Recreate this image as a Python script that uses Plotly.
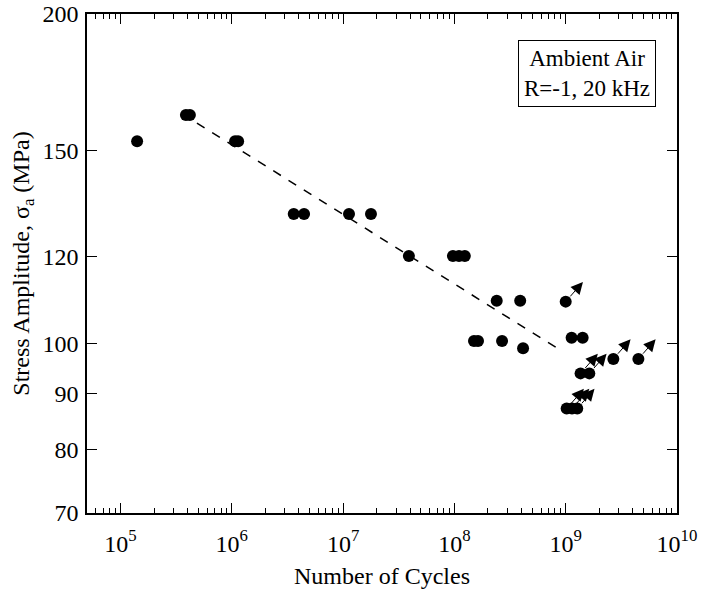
import math
import plotly.graph_objects as go

# Failed specimens
cycles_fail = [1.41e5, 3.87e5, 4.2e5, 1.07e6, 1.14e6, 3.6e6, 4.46e6, 1.13e7, 1.78e7,
               3.9e7, 9.7e7, 1.1e8, 1.24e8, 2.4e8, 3.9e8, 1.5e8, 1.63e8, 2.68e8,
               4.14e8, 1.13e9, 1.42e9]
stress_fail = [153, 161.7, 161.7, 153, 153, 131.3, 131.3, 131.3, 131.3,
               120.2, 120.2, 120.2, 120.2, 109.4, 109.4, 100.5, 100.5, 100.5,
               99.0, 101.2, 101.2]

# Run-outs (arrows)
cycles_runout = [1.0e9, 1.36e9, 1.63e9, 2.68e9, 4.5e9, 1.02e9, 1.14e9, 1.27e9]
stress_runout = [109.2, 93.9, 93.9, 96.8, 96.8, 87.2, 87.2, 87.2]

# Fit line endpoints
cycles_fit = [4.86e5, 8.4e8]
stress_fit = [159, 99]

y_ticks = [70, 80, 90, 100, 120, 150, 200]
x_ticks = [1e5, 1e6, 1e7, 1e8, 1e9, 1e10]
x_ticktext = ["10<sup>5</sup>", "10<sup>6</sup>", "10<sup>7</sup>", "10<sup>8</sup>",
              "10<sup>9</sup>", "10<sup>10</sup>"]

FONT = "Liberation Serif"

fig = go.Figure()
fig.add_trace(go.Scatter(x=cycles_fit, y=stress_fit, mode="lines",
                         line=dict(color="black", width=1.5, dash="dash"),
                         showlegend=False, hoverinfo="skip"))
fig.add_trace(go.Scatter(x=cycles_fail + cycles_runout, y=stress_fail + stress_runout,
                         mode="markers", marker=dict(color="black", size=12),
                         showlegend=False))

annotations = []
for n, s in zip(cycles_runout, stress_runout):
    lx, ly = math.log10(n), math.log10(s)
    annotations.append(dict(x=lx + 0.155, y=ly + 0.018, ax=lx, ay=ly,
                            xref="x", yref="y", axref="x", ayref="y",
                            showarrow=True, arrowhead=2, arrowsize=2.4,
                            arrowwidth=1, arrowcolor="black", startstandoff=5,
                            text=""))
annotations.append(dict(x=0.964, y=0.948, xref="paper", yref="paper",
                        xanchor="right", yanchor="top", showarrow=False,
                        text="Ambient Air<br>R=-1, 20 kHz", align="center",
                        font=dict(family=FONT, size=23, color="black"),
                        bordercolor="black", borderwidth=1, borderpad=5,
                        bgcolor="white"))

minor_x = [k * 10 ** e for e in range(4, 10) for k in range(2, 10)]

fig.update_layout(
    width=701, height=598,
    margin=dict(l=87, r=24, t=14, b=85),
    plot_bgcolor="white", paper_bgcolor="white",
    font=dict(family=FONT, size=24, color="black"),
    annotations=annotations,
    xaxis=dict(type="log", range=[math.log10(5e4), 10], automargin=False,
               tickvals=x_ticks, ticktext=x_ticktext, ticklabeloverflow="allow",
               ticks="inside", ticklen=10, tickwidth=1, tickcolor="black",
               minor=dict(tickvals=minor_x, ticks="inside", ticklen=5,
                          tickwidth=1, tickcolor="black", showgrid=False),
               showline=True, linecolor="black", linewidth=1.5, mirror="allticks",
               showgrid=False, zeroline=False, ticklabelstandoff=8,
               title=dict(text="Number of Cycles", standoff=12,
                          font=dict(family=FONT, size=24, color="black"))),
    yaxis=dict(type="log", range=[math.log10(70), math.log10(200)], automargin=False,
               tickvals=y_ticks, ticktext=[str(v) for v in y_ticks],
               ticklabeloverflow="allow",
               ticks="inside", ticklen=10, tickwidth=1, tickcolor="black",
               showline=True, linecolor="black", linewidth=1.5, mirror="allticks",
               showgrid=False, zeroline=False, ticklabelstandoff=2,
               title=dict(text="Stress Amplitude, σ<sub>a</sub> (MPa)", standoff=6,
                          font=dict(family=FONT, size=24, color="black"))),
)

fig.write_html("out.html", config={"displayModeBar": False},
               post_script="document.body.style.margin='0';document.body.style.overflow='hidden';")
